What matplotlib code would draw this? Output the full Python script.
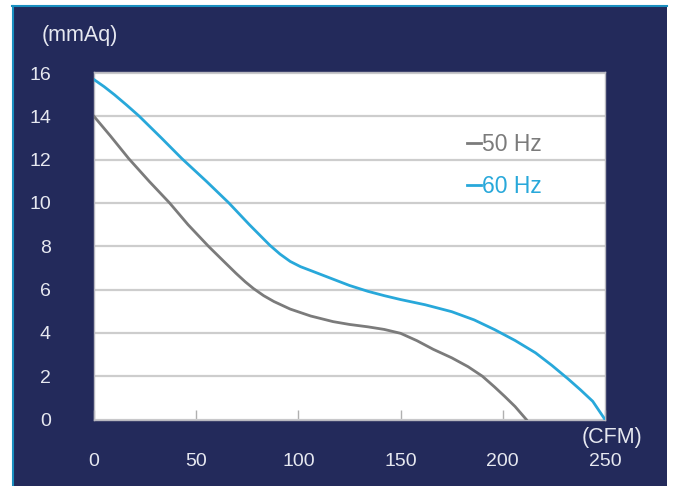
import numpy as np
import matplotlib.pyplot as plt
from matplotlib.patches import Rectangle
from matplotlib.lines import Line2D

plt.rcParams['font.family'] = ['Liberation Sans', 'DejaVu Sans']

# Airflow (CFM) vs static pressure (mmAq)
cfm_50 = [0, 8, 17, 27, 37, 46, 56, 63, 69.5, 74, 78, 83, 88, 96, 106, 117, 125, 134, 142, 150,
          158, 166, 175, 183, 190, 196, 201, 206, 211.5]
pa_50 = [14.0, 13.1, 12.05, 11.0, 10.0, 9.0, 8.0, 7.35, 6.75, 6.36, 6.05, 5.72, 5.45, 5.1, 4.78, 4.52,
         4.39, 4.28, 4.16, 3.98, 3.64, 3.24, 2.85, 2.44, 2.0, 1.5, 1.06, 0.6, 0]

cfm_60 = [0, 5, 10, 16, 22, 33, 43, 55, 66, 76, 86, 91, 96, 101, 106, 117, 125, 134, 142, 150,
          162, 175, 186, 196, 206, 216, 224, 232, 238, 244, 250]
pa_60 = [15.7, 15.37, 15.0, 14.52, 14.02, 13.0, 12.05, 11.0, 10.0, 9.0, 8.05, 7.64, 7.3, 7.06, 6.88,
         6.48, 6.19, 5.92, 5.72, 5.54, 5.3, 4.98, 4.6, 4.15, 3.65, 3.08, 2.5, 1.87, 1.37, 0.84, 0]

x_ticks = [0, 50, 100, 150, 200, 250]
y_ticks = [0, 2, 4, 6, 8, 10, 12, 14, 16]

navy = '#232a5b'
txt = '#e6e8f0'
grey = '#7b7b7b'
blue = '#28a8da'

fig = plt.figure(figsize=(6.73, 4.86), dpi=100)
fig.patch.set_facecolor('white')

# dark panel behind the chart
fig.patches.append(Rectangle((12 / 673, 0), 655 / 673, 480 / 486, transform=fig.transFigure,
                             facecolor=navy, edgecolor='none', zorder=-10))
fig.lines.append(Line2D([12 / 673, 667 / 673], [480 / 486, 480 / 486], transform=fig.transFigure,
                        color='#1a8fc0', lw=1.5, zorder=-9))
fig.lines.append(Line2D([12.5 / 673, 12.5 / 673], [0, 480 / 486], transform=fig.transFigure,
                        color='#1a8fc0', lw=1.5, zorder=-9))

ax = fig.add_axes([94 / 673, 66.5 / 486, 511 / 673, 347.5 / 486])
ax.set_facecolor('white')

ax.plot(cfm_50, pa_50, color=grey, lw=2.0, label='50 Hz', zorder=3, solid_joinstyle='round')
ax.plot(cfm_60, pa_60, color=blue, lw=2.0, label='60 Hz', zorder=3, solid_joinstyle='round')

ax.set_xlim(0, 250)
ax.set_ylim(0, 16.05)
ax.set_xticks(x_ticks)
ax.set_yticks(y_ticks)
ax.yaxis.grid(True, color='#cdcdcd', lw=1.6)
ax.set_axisbelow(True)

ax.tick_params(axis='x', direction='in', length=7, width=1, color='#b0b0b0',
               labelcolor=txt, labelsize=14, pad=24)
ax.tick_params(axis='y', length=0, labelcolor=txt, labelsize=14, pad=31)
for s in ax.spines.values():
    s.set_color('#b8b8c0')
    s.set_linewidth(1)

leg = ax.legend(loc='upper left', bbox_to_anchor=(0.69, 0.885), frameon=False,
                handlelength=0.6, handletextpad=0.05, labelspacing=0.85,
                fontsize=16.5, labelcolor='linecolor')

fig.text(42 / 673, 1 - 35 / 486, '(mmAq)', color=txt, fontsize=15.5, ha='left', va='center')
fig.text(612 / 673, 1 - 437 / 486, '(CFM)', color=txt, fontsize=15.5, ha='center', va='center')

fig.savefig('out.png', dpi=100, facecolor=fig.get_facecolor())
